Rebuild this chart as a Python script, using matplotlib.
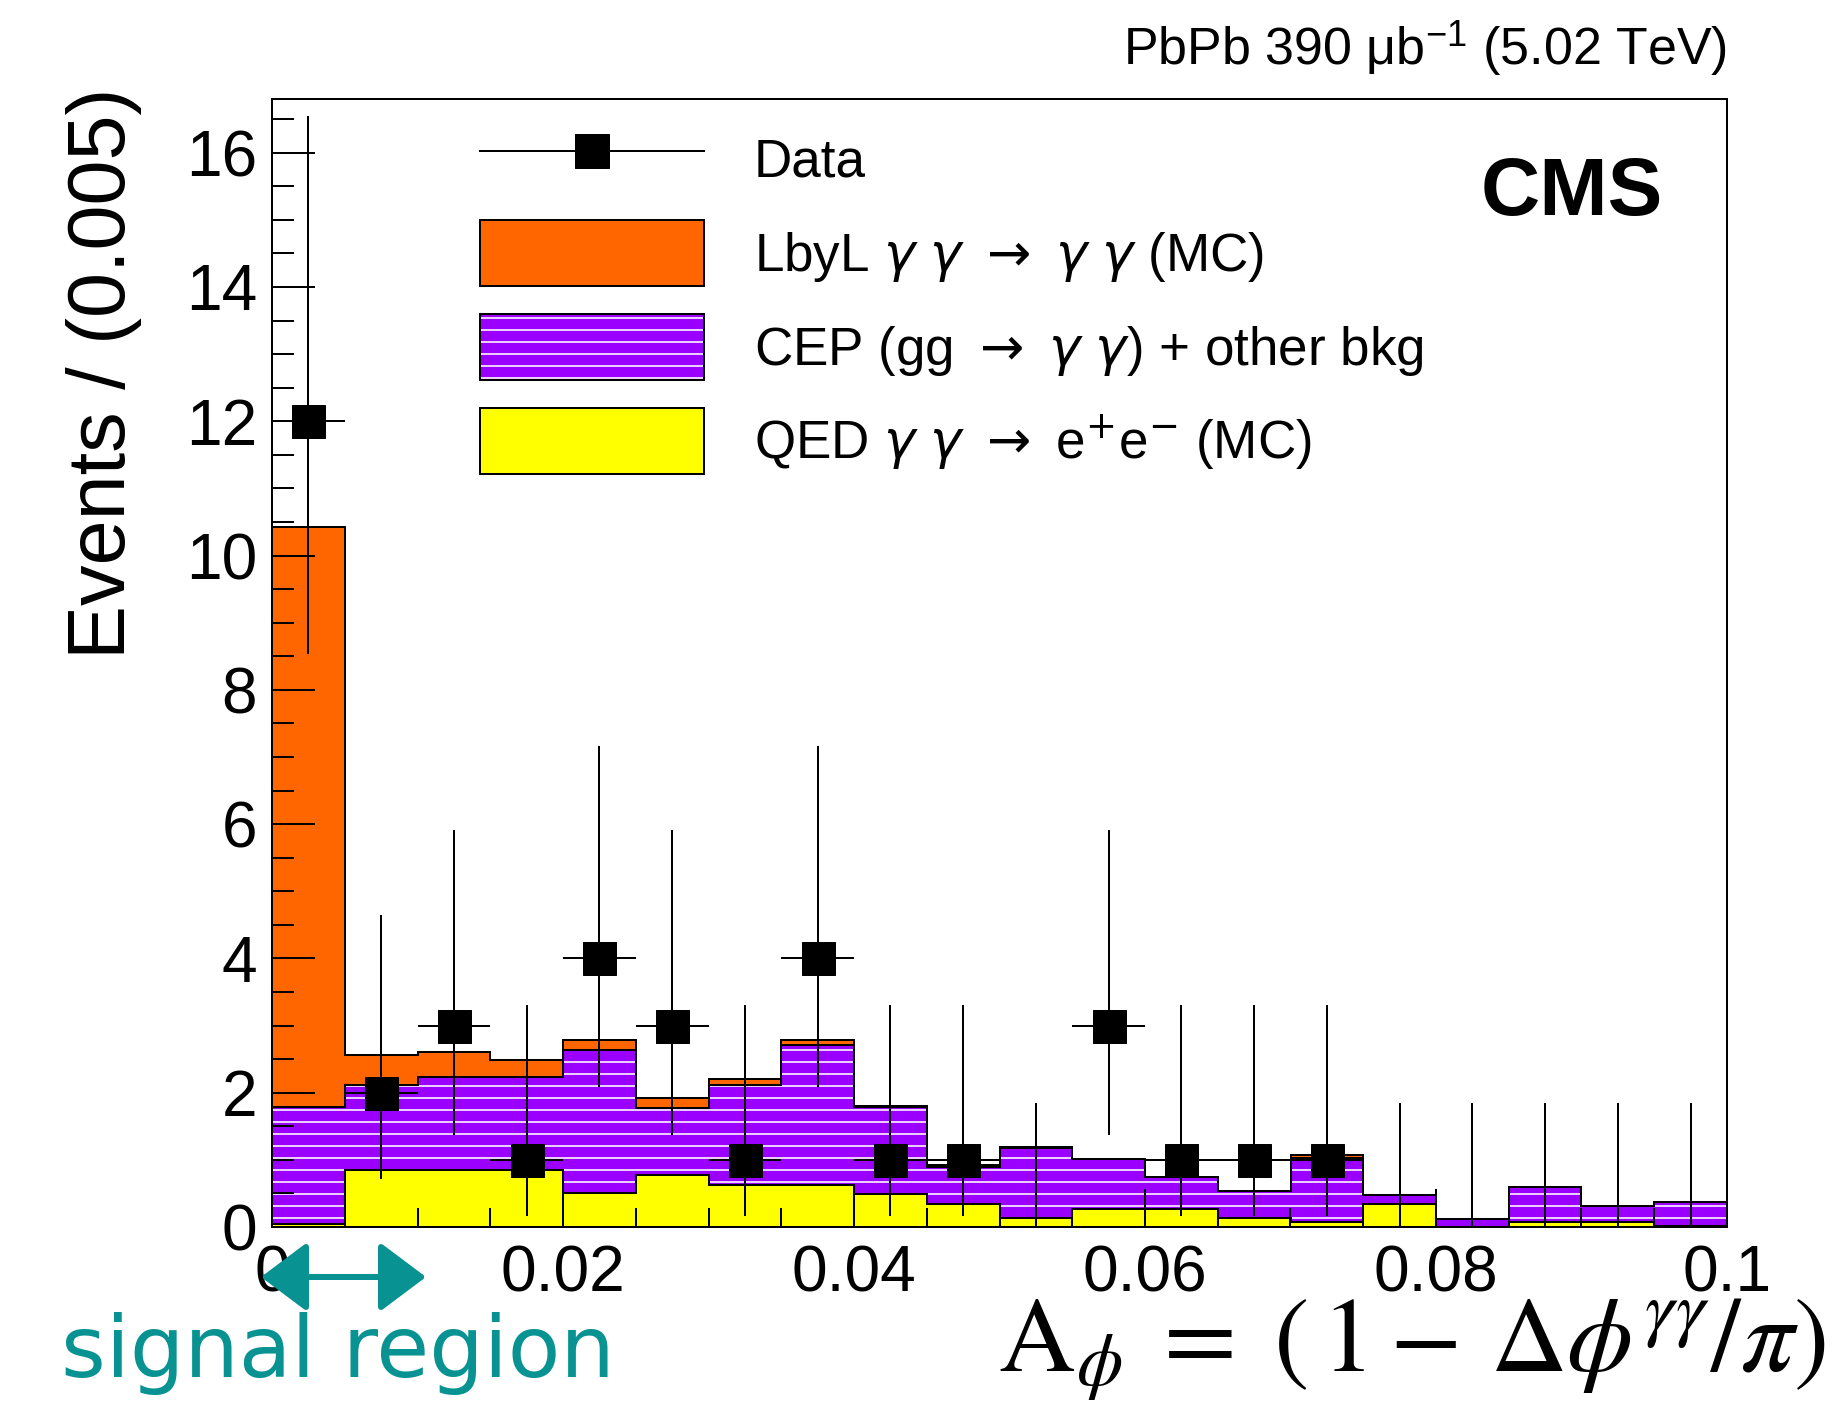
import numpy as np
import matplotlib
matplotlib.use("Agg")
import matplotlib.pyplot as plt
from matplotlib.patches import Patch, FancyArrowPatch
from matplotlib.lines import Line2D
from matplotlib.legend_handler import HandlerTuple
from matplotlib.ticker import MultipleLocator, FuncFormatter

plt.rcParams["font.family"] = ["Liberation Sans", "DejaVu Sans"]
plt.rcParams["mathtext.fontset"] = "custom"
plt.rcParams["mathtext.rm"] = "Liberation Sans"
plt.rcParams["mathtext.it"] = "Liberation Sans:italic"
plt.rcParams["mathtext.bf"] = "Liberation Sans:bold"
plt.rcParams["hatch.linewidth"] = 1.6

# binning of A_phi
x_lo, x_hi, n_bins = 0.0, 0.1, 20

# observed events per bin and asymmetric (Poisson) errors
data = np.array([12, 2, 3, 1, 4, 3, 1, 4, 1, 1, 0, 3, 1, 1, 1, 0, 0, 0, 0, 0])
err_lo = np.array([3.46, 1.29, 1.63, 0.83, 1.91, 1.63, 0.83, 1.91, 0.83, 0.83,
                   0.0, 1.63, 0.83, 0.83, 0.83, 0.0, 0.0, 0.0, 0.0, 0.0])
err_hi = np.array([4.55, 2.64, 2.92, 2.30, 3.16, 2.92, 2.30, 3.16, 2.30, 2.30,
                   1.84, 2.92, 2.30, 2.30, 2.30, 1.84, 1.84, 1.84, 1.84, 1.84])

# stacked MC components (bottom to top)
qed = np.array([0.05, 0.85, 0.85, 0.85, 0.50, 0.77, 0.62, 0.62, 0.49, 0.35,
                0.14, 0.27, 0.27, 0.14, 0.07, 0.35, 0.0, 0.07, 0.07, 0.02])
cep = np.array([1.74, 1.26, 1.39, 1.39, 2.13, 1.00, 1.49, 2.09, 1.30, 0.55,
                1.04, 0.74, 0.47, 0.40, 0.96, 0.12, 0.12, 0.52, 0.24, 0.35])
lbyl = np.array([8.63, 0.45, 0.37, 0.24, 0.15, 0.15, 0.09, 0.07, 0.01, 0.02,
                 0.01, 0.0, 0.01, 0.0, 0.04, 0.0, 0.0, 0.0, 0.0, 0.0])

labels = ["Data",
          r"LbyL $\gamma$ $\gamma$ $\rightarrow$ $\gamma$ $\gamma$ (MC)",
          r"CEP (gg $\rightarrow$ $\gamma$ $\gamma$) + other bkg",
          r"QED $\gamma$ $\gamma$ $\rightarrow$ e$^{+}$e$^{-}$ (MC)"]

c_orange = "#FF6600"
c_purple = "#9B00FF"
c_yellow = "#FFFF00"
c_teal = "#089292"

edges = np.linspace(x_lo, x_hi, n_bins + 1)
centers = 0.5 * (edges[:-1] + edges[1:])
half = 0.5 * (edges[1] - edges[0])

W, H = 1845, 1426
fig = plt.figure(figsize=(W / 72, H / 72), dpi=72)
ax = fig.add_axes([272 / W, 1 - 1227 / H, 1455 / W, 1128 / H])

lvl1 = qed
lvl2 = qed + cep
lvl3 = lvl2 + lbyl

ax.stairs(lvl1, edges, baseline=0, fill=True, facecolor=c_yellow, edgecolor=c_yellow, lw=0)
ax.stairs(lvl2, edges, baseline=lvl1, fill=True, facecolor=c_purple, edgecolor="white",
          hatch="-", lw=0)
ax.stairs(lvl3, edges, baseline=lvl2, fill=True, facecolor=c_orange, edgecolor=c_orange, lw=0)
for lvl in (lvl1, lvl2, lvl3):
    ax.stairs(lvl, edges, baseline=0, color="k", lw=2)

# data points
ax.errorbar(centers, data, yerr=[err_lo, err_hi], fmt="none", ecolor="k",
            elinewidth=2, zorder=4)
m = data > 0
ax.errorbar(centers[m], data[m], xerr=half, fmt="s", color="k", ms=33,
            elinewidth=2, zorder=5)

ax.set_xlim(x_lo, x_hi)
ax.set_ylim(0, 16.8)
ax.xaxis.set_major_locator(MultipleLocator(0.02))
ax.xaxis.set_minor_locator(MultipleLocator(0.005))
ax.yaxis.set_major_locator(MultipleLocator(2))
ax.yaxis.set_minor_locator(MultipleLocator(0.5))
ax.xaxis.set_major_formatter(FuncFormatter(lambda v, p: f"{v:g}"))
ax.tick_params(which="both", direction="in", top=False, right=False, width=2,
               labelsize=64)
ax.tick_params(axis="x", which="major", length=38, pad=18)
ax.tick_params(axis="x", which="minor", length=19)
ax.tick_params(axis="y", which="major", length=43, pad=15)
ax.tick_params(axis="y", which="minor", length=22)
for s in ax.spines.values():
    s.set_linewidth(2)

# legend
h_data = Line2D([], [], color="k", lw=2, marker="s", ms=34)
h_lbyl = Patch(facecolor=c_orange, edgecolor="k", lw=2)
h_cep = (Patch(facecolor=c_purple, edgecolor="white", hatch="-", lw=0),
         Patch(facecolor="none", edgecolor="k", lw=2))
h_qed = Patch(facecolor=c_yellow, edgecolor="k", lw=2)
leg = ax.legend([h_data, h_lbyl, h_cep, h_qed], labels,
                handler_map={tuple: HandlerTuple(ndivide=1)},
                loc="upper left", bbox_to_anchor=(0.143, 0.976), frameon=False,
                fontsize=53, handlelength=4.23, handleheight=1.54, labelspacing=0.53,
                handletextpad=0.93, borderpad=0, borderaxespad=0, numpoints=1)
for t in leg.get_texts():
    t.set_math_fontfamily("dejavusans")

# texts
fig.text(104 / W, 1 - 88 / H, "Events / (0.005)", rotation=90, ha="center",
         va="top", fontsize=81)
fig.text(1727 / W, 1 - 65 / H, r"PbPb 390 μb$^{-1}$ (5.02 TeV)", ha="right",
         va="baseline", fontsize=52)
fig.text(1663 / W, 1 - 194 / H, "CMS", ha="right", va="center", fontsize=82,
         fontweight="bold")
fig.text(998 / W, 1 - 1371 / H,
         r"$\mathrm{A}_{\phi}\;=\;\left(\,1-\,\Delta\phi^{\gamma\gamma}/\pi\right)$",
         ha="left", va="baseline", fontsize=106, math_fontfamily="stix")

# signal region annotation
fig.text(338 / W, 1 - 1377 / H, "signal region", ha="center", va="baseline",
         fontsize=86, color=c_teal, family="DejaVu Sans")
fig.add_artist(FancyArrowPatch(
    (261 / W, 1 - 1277 / H), (426 / W, 1 - 1277 / H),
    transform=fig.transFigure, arrowstyle="<|-|>,head_length=1.0,head_width=0.75",
    mutation_scale=40, lw=6, color=c_teal, shrinkA=0, shrinkB=0))

fig.savefig("out.png", dpi=72)
